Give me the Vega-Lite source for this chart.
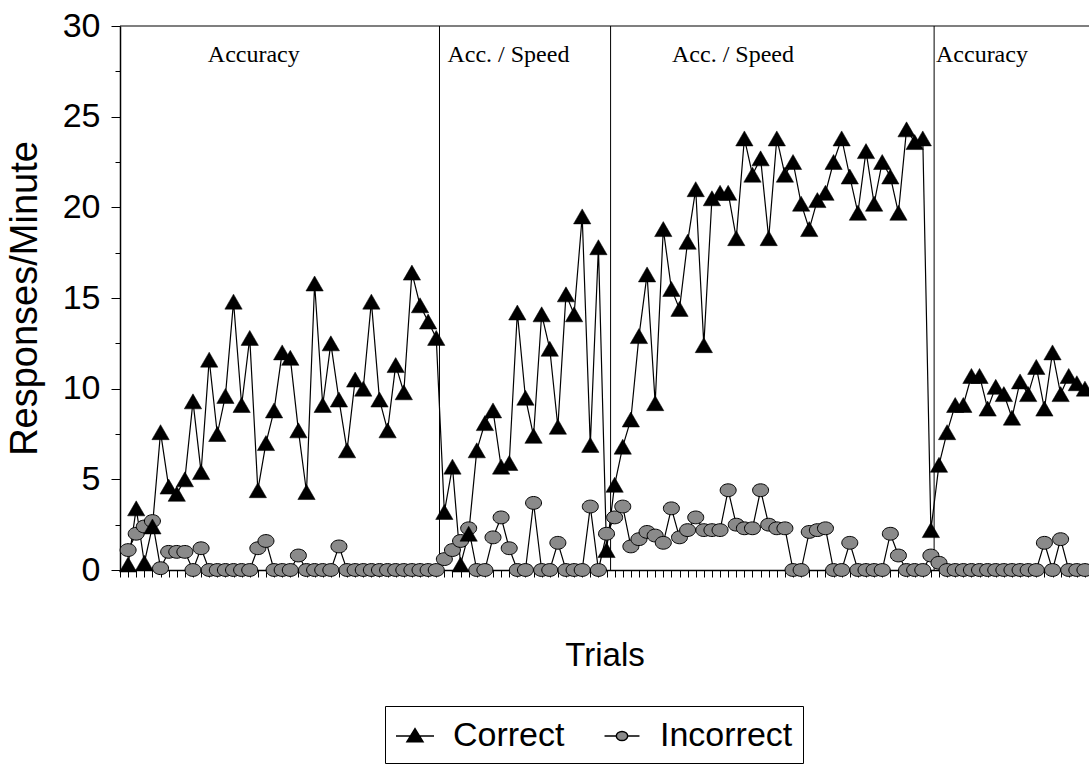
{
  "$schema": "https://vega.github.io/schema/vega-lite/v6.json",
  "width": 969,
  "height": 544,
  "autosize": {"type": "none"},
  "padding": {"left": 120, "top": 26, "right": 0, "bottom": 194},
  "background": "white",
  "config": {"view": {"stroke": null}, "font": "Liberation Sans"},
  "datasets": {
    "obs": [
      {"trial":1,"series":"Correct","value":0.3},{"trial":2,"series":"Correct","value":3.4},{"trial":3,"series":"Correct","value":0.4},{"trial":4,"series":"Correct","value":2.4},{"trial":5,"series":"Correct","value":7.6},{"trial":6,"series":"Correct","value":4.6},{"trial":7,"series":"Correct","value":4.2},{"trial":8,"series":"Correct","value":5.0},{"trial":9,"series":"Correct","value":9.3},{"trial":10,"series":"Correct","value":5.4},
      {"trial":11,"series":"Correct","value":11.6},{"trial":12,"series":"Correct","value":7.5},{"trial":13,"series":"Correct","value":9.6},{"trial":14,"series":"Correct","value":14.8},{"trial":15,"series":"Correct","value":9.1},{"trial":16,"series":"Correct","value":12.8},{"trial":17,"series":"Correct","value":4.4},{"trial":18,"series":"Correct","value":7.0},{"trial":19,"series":"Correct","value":8.8},{"trial":20,"series":"Correct","value":12.0},
      {"trial":21,"series":"Correct","value":11.7},{"trial":22,"series":"Correct","value":7.7},{"trial":23,"series":"Correct","value":4.3},{"trial":24,"series":"Correct","value":15.8},{"trial":25,"series":"Correct","value":9.1},{"trial":26,"series":"Correct","value":12.5},{"trial":27,"series":"Correct","value":9.4},{"trial":28,"series":"Correct","value":6.6},{"trial":29,"series":"Correct","value":10.5},{"trial":30,"series":"Correct","value":10.0},
      {"trial":31,"series":"Correct","value":14.8},{"trial":32,"series":"Correct","value":9.4},{"trial":33,"series":"Correct","value":7.7},{"trial":34,"series":"Correct","value":11.3},{"trial":35,"series":"Correct","value":9.8},{"trial":36,"series":"Correct","value":16.4},{"trial":37,"series":"Correct","value":14.6},{"trial":38,"series":"Correct","value":13.7},{"trial":39,"series":"Correct","value":12.8},
      {"trial":40,"series":"Correct","value":3.2},{"trial":41,"series":"Correct","value":5.7},{"trial":42,"series":"Correct","value":0.3},{"trial":43,"series":"Correct","value":2.0},{"trial":44,"series":"Correct","value":6.6},{"trial":45,"series":"Correct","value":8.1},{"trial":46,"series":"Correct","value":8.8},{"trial":47,"series":"Correct","value":5.7},{"trial":48,"series":"Correct","value":5.9},{"trial":49,"series":"Correct","value":14.2},
      {"trial":50,"series":"Correct","value":9.5},{"trial":51,"series":"Correct","value":7.4},{"trial":52,"series":"Correct","value":14.1},{"trial":53,"series":"Correct","value":12.2},{"trial":54,"series":"Correct","value":7.9},{"trial":55,"series":"Correct","value":15.2},{"trial":56,"series":"Correct","value":14.1},{"trial":57,"series":"Correct","value":19.5},{"trial":58,"series":"Correct","value":6.9},{"trial":59,"series":"Correct","value":17.8},{"trial":60,"series":"Correct","value":1.1},
      {"trial":61,"series":"Correct","value":4.7},{"trial":62,"series":"Correct","value":6.8},{"trial":63,"series":"Correct","value":8.3},{"trial":64,"series":"Correct","value":12.9},{"trial":65,"series":"Correct","value":16.3},{"trial":66,"series":"Correct","value":9.2},{"trial":67,"series":"Correct","value":18.8},{"trial":68,"series":"Correct","value":15.5},{"trial":69,"series":"Correct","value":14.4},{"trial":70,"series":"Correct","value":18.1},
      {"trial":71,"series":"Correct","value":21.0},{"trial":72,"series":"Correct","value":12.4},{"trial":73,"series":"Correct","value":20.5},{"trial":74,"series":"Correct","value":20.8},{"trial":75,"series":"Correct","value":20.8},{"trial":76,"series":"Correct","value":18.3},{"trial":77,"series":"Correct","value":23.8},{"trial":78,"series":"Correct","value":21.8},{"trial":79,"series":"Correct","value":22.7},{"trial":80,"series":"Correct","value":18.3},
      {"trial":81,"series":"Correct","value":23.8},{"trial":82,"series":"Correct","value":21.8},{"trial":83,"series":"Correct","value":22.5},{"trial":84,"series":"Correct","value":20.2},{"trial":85,"series":"Correct","value":18.8},{"trial":86,"series":"Correct","value":20.4},{"trial":87,"series":"Correct","value":20.8},{"trial":88,"series":"Correct","value":22.5},{"trial":89,"series":"Correct","value":23.8},{"trial":90,"series":"Correct","value":21.7},
      {"trial":91,"series":"Correct","value":19.7},{"trial":92,"series":"Correct","value":23.1},{"trial":93,"series":"Correct","value":20.2},{"trial":94,"series":"Correct","value":22.5},{"trial":95,"series":"Correct","value":21.7},{"trial":96,"series":"Correct","value":19.7},{"trial":97,"series":"Correct","value":24.3},{"trial":98,"series":"Correct","value":23.6},{"trial":99,"series":"Correct","value":23.8},
      {"trial":100,"series":"Correct","value":2.2},{"trial":101,"series":"Correct","value":5.8},{"trial":102,"series":"Correct","value":7.6},{"trial":103,"series":"Correct","value":9.1},{"trial":104,"series":"Correct","value":9.1},{"trial":105,"series":"Correct","value":10.7},{"trial":106,"series":"Correct","value":10.7},{"trial":107,"series":"Correct","value":8.9},{"trial":108,"series":"Correct","value":10.1},{"trial":109,"series":"Correct","value":9.7},
      {"trial":110,"series":"Correct","value":8.4},{"trial":111,"series":"Correct","value":10.4},{"trial":112,"series":"Correct","value":9.7},{"trial":113,"series":"Correct","value":11.2},{"trial":114,"series":"Correct","value":8.9},{"trial":115,"series":"Correct","value":12.0},{"trial":116,"series":"Correct","value":9.7},{"trial":117,"series":"Correct","value":10.7},{"trial":118,"series":"Correct","value":10.3},{"trial":119,"series":"Correct","value":10.0},
      {"trial":1,"series":"Incorrect","value":1.1},{"trial":2,"series":"Incorrect","value":2.0},{"trial":3,"series":"Incorrect","value":2.4},{"trial":4,"series":"Incorrect","value":2.7},{"trial":5,"series":"Incorrect","value":0.1},{"trial":6,"series":"Incorrect","value":1.0},{"trial":7,"series":"Incorrect","value":1.0},{"trial":8,"series":"Incorrect","value":1.0},{"trial":9,"series":"Incorrect","value":0},{"trial":10,"series":"Incorrect","value":1.2},
      {"trial":11,"series":"Incorrect","value":0},{"trial":12,"series":"Incorrect","value":0},{"trial":13,"series":"Incorrect","value":0},{"trial":14,"series":"Incorrect","value":0},{"trial":15,"series":"Incorrect","value":0},{"trial":16,"series":"Incorrect","value":0},{"trial":17,"series":"Incorrect","value":1.2},{"trial":18,"series":"Incorrect","value":1.6},{"trial":19,"series":"Incorrect","value":0},{"trial":20,"series":"Incorrect","value":0},
      {"trial":21,"series":"Incorrect","value":0},{"trial":22,"series":"Incorrect","value":0.8},{"trial":23,"series":"Incorrect","value":0},{"trial":24,"series":"Incorrect","value":0},{"trial":25,"series":"Incorrect","value":0},{"trial":26,"series":"Incorrect","value":0},{"trial":27,"series":"Incorrect","value":1.3},{"trial":28,"series":"Incorrect","value":0},{"trial":29,"series":"Incorrect","value":0},{"trial":30,"series":"Incorrect","value":0},
      {"trial":31,"series":"Incorrect","value":0},{"trial":32,"series":"Incorrect","value":0},{"trial":33,"series":"Incorrect","value":0},{"trial":34,"series":"Incorrect","value":0},{"trial":35,"series":"Incorrect","value":0},{"trial":36,"series":"Incorrect","value":0},{"trial":37,"series":"Incorrect","value":0},{"trial":38,"series":"Incorrect","value":0},{"trial":39,"series":"Incorrect","value":0},
      {"trial":40,"series":"Incorrect","value":0.6},{"trial":41,"series":"Incorrect","value":1.1},{"trial":42,"series":"Incorrect","value":1.6},{"trial":43,"series":"Incorrect","value":2.3},{"trial":44,"series":"Incorrect","value":0},{"trial":45,"series":"Incorrect","value":0},{"trial":46,"series":"Incorrect","value":1.8},{"trial":47,"series":"Incorrect","value":2.9},{"trial":48,"series":"Incorrect","value":1.2},{"trial":49,"series":"Incorrect","value":0},
      {"trial":50,"series":"Incorrect","value":0},{"trial":51,"series":"Incorrect","value":3.7},{"trial":52,"series":"Incorrect","value":0},{"trial":53,"series":"Incorrect","value":0},{"trial":54,"series":"Incorrect","value":1.5},{"trial":55,"series":"Incorrect","value":0},{"trial":56,"series":"Incorrect","value":0},{"trial":57,"series":"Incorrect","value":0},{"trial":58,"series":"Incorrect","value":3.5},{"trial":59,"series":"Incorrect","value":0},{"trial":60,"series":"Incorrect","value":2.0},
      {"trial":61,"series":"Incorrect","value":2.9},{"trial":62,"series":"Incorrect","value":3.5},{"trial":63,"series":"Incorrect","value":1.3},{"trial":64,"series":"Incorrect","value":1.7},{"trial":65,"series":"Incorrect","value":2.1},{"trial":66,"series":"Incorrect","value":1.9},{"trial":67,"series":"Incorrect","value":1.5},{"trial":68,"series":"Incorrect","value":3.4},{"trial":69,"series":"Incorrect","value":1.8},{"trial":70,"series":"Incorrect","value":2.2},
      {"trial":71,"series":"Incorrect","value":2.9},{"trial":72,"series":"Incorrect","value":2.2},{"trial":73,"series":"Incorrect","value":2.2},{"trial":74,"series":"Incorrect","value":2.2},{"trial":75,"series":"Incorrect","value":4.4},{"trial":76,"series":"Incorrect","value":2.5},{"trial":77,"series":"Incorrect","value":2.3},{"trial":78,"series":"Incorrect","value":2.3},{"trial":79,"series":"Incorrect","value":4.4},{"trial":80,"series":"Incorrect","value":2.5},
      {"trial":81,"series":"Incorrect","value":2.3},{"trial":82,"series":"Incorrect","value":2.3},{"trial":83,"series":"Incorrect","value":0},{"trial":84,"series":"Incorrect","value":0},{"trial":85,"series":"Incorrect","value":2.1},{"trial":86,"series":"Incorrect","value":2.2},{"trial":87,"series":"Incorrect","value":2.3},{"trial":88,"series":"Incorrect","value":0},{"trial":89,"series":"Incorrect","value":0},{"trial":90,"series":"Incorrect","value":1.5},
      {"trial":91,"series":"Incorrect","value":0},{"trial":92,"series":"Incorrect","value":0},{"trial":93,"series":"Incorrect","value":0},{"trial":94,"series":"Incorrect","value":0},{"trial":95,"series":"Incorrect","value":2.0},{"trial":96,"series":"Incorrect","value":0.8},{"trial":97,"series":"Incorrect","value":0},{"trial":98,"series":"Incorrect","value":0},{"trial":99,"series":"Incorrect","value":0},
      {"trial":100,"series":"Incorrect","value":0.8},{"trial":101,"series":"Incorrect","value":0.4},{"trial":102,"series":"Incorrect","value":0},{"trial":103,"series":"Incorrect","value":0},{"trial":104,"series":"Incorrect","value":0},{"trial":105,"series":"Incorrect","value":0},{"trial":106,"series":"Incorrect","value":0},{"trial":107,"series":"Incorrect","value":0},{"trial":108,"series":"Incorrect","value":0},{"trial":109,"series":"Incorrect","value":0},
      {"trial":110,"series":"Incorrect","value":0},{"trial":111,"series":"Incorrect","value":0},{"trial":112,"series":"Incorrect","value":0},{"trial":113,"series":"Incorrect","value":0},{"trial":114,"series":"Incorrect","value":1.5},{"trial":115,"series":"Incorrect","value":0},{"trial":116,"series":"Incorrect","value":1.7},{"trial":117,"series":"Incorrect","value":0},{"trial":118,"series":"Incorrect","value":0},{"trial":119,"series":"Incorrect","value":0}
    ],
    "phases": [{"trial": 39.4}, {"trial": 60.5}, {"trial": 100.4}],
    "frame": [{"value": 30}],
    "labels": [
      {"trial": 16.5, "value": 28.4, "phase_label": "Accuracy"},
      {"trial": 47.9, "value": 28.4, "phase_label": "Acc. / Speed"},
      {"trial": 75.6, "value": 28.4, "phase_label": "Acc. / Speed"},
      {"trial": 106.3, "value": 28.4, "phase_label": "Accuracy"}
    ]
  },
  "layer": [
    {
      "data": {"name": "phases"},
      "mark": {"type": "rule", "color": "black", "strokeWidth": 1},
      "encoding": {"x": {"field": "trial", "type": "quantitative", "title": "Trials"}}
    },
    {
      "data": {"name": "frame"},
      "mark": {"type": "rule", "color": "black", "strokeWidth": 1.2},
      "encoding": {"y": {"field": "value", "type": "quantitative", "title": "Responses/Minute"}}
    },
    {
      "data": {"name": "obs"},
      "mark": {"type": "line", "color": "black", "strokeWidth": 1.2},
      "encoding": {
        "x": {
          "field": "trial", "type": "quantitative", "title": "Trials",
          "scale": {"domain": [0, 119.5], "nice": false, "zero": false},
          "axis": {
            "labels": false, "tickCount": 120, "tickSize": 7, "tickColor": "black", "tickWidth": 1,
            "domainColor": "black", "domainWidth": 1.5, "grid": false,
            "titleFont": "Liberation Sans", "titleFontSize": 33, "titleFontWeight": "normal", "titleColor": "black", "titlePadding": 62
          }
        },
        "y": {
          "field": "value", "type": "quantitative", "title": "Responses/Minute",
          "scale": {"domain": [0, 30], "nice": false},
          "axis": {
            "values": [0, 2.5, 5, 7.5, 10, 12.5, 15, 17.5, 20, 22.5, 25, 27.5, 30],
            "format": "d",
            "labelExpr": "datum.value % 5 === 0 ? datum.label : ''",
            "tickSize": {"condition": {"test": "datum.value % 5 === 0", "value": 9}, "value": 5},
            "tickColor": "black", "domainColor": "black", "domainWidth": 1.5, "grid": false,
            "labelFont": "Liberation Sans", "labelFontSize": 34, "labelColor": "black", "labelPadding": 11,
            "titleFont": "Liberation Sans", "titleFontSize": 38, "titleFontWeight": "normal", "titleColor": "black", "titlePadding": 18
          }
        },
        "detail": {"field": "series", "type": "nominal"},
        "order": {"field": "trial", "type": "quantitative"}
      }
    },
    {
      "data": {"name": "obs"},
      "transform": [{"filter": {"field": "series", "equal": "Incorrect"}}],
      "mark": {"type": "point", "shape": "M1,0A1,0.8 0 1 1 -1,0A1,0.8 0 1 1 1,0Z", "size": 256, "fill": "#8a8a8a", "stroke": "black", "strokeWidth": 1, "opacity": 1, "fillOpacity": 1},
      "encoding": {
        "x": {"field": "trial", "type": "quantitative", "title": "Trials"},
        "y": {"field": "value", "type": "quantitative", "title": "Responses/Minute"}
      }
    },
    {
      "data": {"name": "obs"},
      "transform": [{"filter": {"field": "series", "equal": "Correct"}}],
      "mark": {"type": "point", "shape": "triangle-up", "size": 300, "fill": "black", "stroke": "black", "strokeWidth": 0.5, "opacity": 1, "fillOpacity": 1},
      "encoding": {
        "x": {"field": "trial", "type": "quantitative", "title": "Trials"},
        "y": {"field": "value", "type": "quantitative", "title": "Responses/Minute"}
      }
    },
    {
      "data": {"name": "obs"},
      "mark": {"type": "point", "opacity": 0, "filled": true, "strokeWidth": 1.5},
      "encoding": {
        "x": {"field": "trial", "type": "quantitative", "title": "Trials"},
        "y": {"field": "value", "type": "quantitative", "title": "Responses/Minute"},
        "shape": {
          "field": "series", "type": "nominal",
          "scale": {"domain": ["Correct", "Incorrect"], "range": ["M-1,0H1M-0.42,0.3L0,-0.38L0.42,0.3Z", "M-0.92,0H-0.3M0.3,0H0.92M0.3,0A0.3,0.24 0 1 1 -0.3,0A0.3,0.24 0 1 1 0.3,0Z"]},
          "legend": {
            "title": null, "orient": "none", "legendX": 265, "legendY": 680, "direction": "horizontal",
            "strokeColor": "black", "padding": 10, "fillColor": "white",
            "labelFont": "Liberation Sans", "labelFontSize": 34, "labelColor": "black", "labelOffset": 18,
            "symbolSize": 1444, "columnPadding": 36, "symbolStrokeWidth": 1.5, "symbolOpacity": 1
          }
        },
        "fill": {
          "field": "series", "type": "nominal",
          "scale": {"domain": ["Correct", "Incorrect"], "range": ["black", "#8a8a8a"]},
          "legend": {
            "title": null, "orient": "none", "legendX": 265, "legendY": 680, "direction": "horizontal",
            "strokeColor": "black", "padding": 10, "fillColor": "white",
            "labelFont": "Liberation Sans", "labelFontSize": 34, "labelColor": "black", "labelOffset": 18,
            "symbolSize": 1444, "columnPadding": 36, "symbolStrokeWidth": 1.5, "symbolOpacity": 1
          }
        },
        "stroke": {
          "field": "series", "type": "nominal",
          "scale": {"domain": ["Correct", "Incorrect"], "range": ["black", "black"]},
          "legend": {
            "title": null, "orient": "none", "legendX": 265, "legendY": 680, "direction": "horizontal",
            "strokeColor": "black", "padding": 10, "fillColor": "white",
            "labelFont": "Liberation Sans", "labelFontSize": 34, "labelColor": "black", "labelOffset": 18,
            "symbolSize": 1444, "columnPadding": 36, "symbolStrokeWidth": 1.5, "symbolOpacity": 1
          }
        }
      }
    },
    {
      "data": {"name": "labels"},
      "mark": {"type": "text", "font": "Liberation Serif", "fontSize": 24, "color": "black", "align": "center", "baseline": "middle"},
      "encoding": {
        "x": {"field": "trial", "type": "quantitative", "title": "Trials"},
        "y": {"field": "value", "type": "quantitative", "title": "Responses/Minute"},
        "text": {"field": "phase_label", "type": "nominal"}
      }
    }
  ]
}
